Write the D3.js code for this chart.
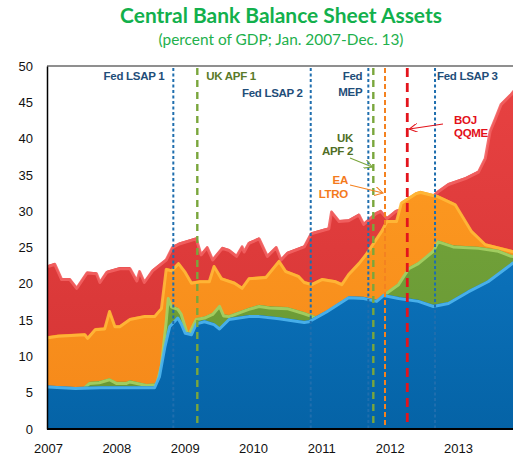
<!DOCTYPE html>
<html><head><meta charset="utf-8">
<script src="https://cdn.jsdelivr.net/npm/d3@7"></script>
<style>html,body{margin:0;padding:0;background:#fff;overflow:hidden}</style>
</head><body><svg id="c" width="513" height="457"></svg>
<script>
// ---------------- DATA ----------------
const yearTicks = [2007, 2008, 2009, 2010, 2011, 2012, 2013];
const valueTicks = [0, 5, 10, 15, 20, 25, 30, 35, 40, 45, 50];

// [decimal year, percent of GDP]
const bojSeries = [
  [2007.00,22.6],[2007.10,22.9],[2007.20,20.8],[2007.32,20.8],[2007.42,19.6],[2007.57,21.7],
  [2007.71,21.6],[2007.76,20.4],[2007.86,21.8],[2008.05,22.3],[2008.20,22.3],[2008.30,20.6],
  [2008.34,21.9],[2008.41,20.4],[2008.53,22.0],[2008.73,23.5],[2008.82,25.2],[2008.92,25.7],
  [2009.17,26.4],[2009.24,24.2],[2009.33,25.2],[2009.41,23.5],[2009.55,25.1],[2009.65,24.8],
  [2009.76,24.0],[2009.84,25.3],[2009.87,24.6],[2009.94,25.8],[2010.09,26.4],[2010.21,24.0],
  [2010.34,25.2],[2010.41,23.5],[2010.50,24.4],[2010.75,25.3],[2010.85,27.1],[2011.11,27.8],
  [2011.15,30.1],[2011.26,28.8],[2011.40,28.9],[2011.55,29.7],[2011.62,28.4],[2011.80,29.9],
  [2011.87,30.2],[2011.96,29.2],[2012.09,30.2],[2012.35,30.8],[2012.60,32.0],[2012.71,32.9],
  [2012.86,33.9],[2013.11,34.7],[2013.30,35.6],[2013.40,37.5],[2013.47,41.2],[2013.55,43.0],
  [2013.63,44.9],[2013.78,46.3],[2013.92,48.0]
];
const ecbSeries = [
  [2007.00,12.8],[2007.15,13.0],[2007.54,13.2],[2007.58,12.7],[2007.69,13.9],[2007.83,14.0],
  [2007.90,16.4],[2007.98,14.3],[2008.05,14.3],[2008.20,15.3],[2008.41,15.7],[2008.56,15.7],
  [2008.66,16.8],[2008.73,22.2],[2008.81,22.0],[2008.91,23.0],[2009.00,21.9],[2009.10,20.3],
  [2009.22,20.5],[2009.36,20.5],[2009.43,22.6],[2009.54,20.9],[2009.73,20.3],[2009.84,19.6],
  [2009.94,20.9],[2010.19,21.1],[2010.38,23.3],[2010.48,21.9],[2010.67,21.2],[2010.75,20.4],
  [2010.86,20.1],[2011.01,20.8],[2011.21,20.5],[2011.30,20.1],[2011.40,21.5],[2011.55,23.0],
  [2011.66,24.3],[2011.88,27.4],[2011.96,28.8],[2012.10,28.8],[2012.17,31.3],[2012.38,32.6],
  [2012.45,32.8],[2012.71,32.2],[2012.96,31.1],[2013.20,27.4],[2013.40,25.6],[2013.78,24.7],
  [2013.92,24.3]
];
const boeSeries = [
  [2007.00,5.6],[2007.50,5.6],[2007.61,6.5],[2007.75,6.6],[2007.90,7.0],[2008.00,6.5],
  [2008.15,6.5],[2008.20,6.7],[2008.44,6.2],[2008.59,6.3],[2008.66,9.0],[2008.73,15.0],
  [2008.76,18.2],[2008.81,17.0],[2008.90,16.7],[2008.95,16.0],[2009.05,13.0],[2009.17,15.3],
  [2009.29,15.5],[2009.41,16.0],[2009.51,17.1],[2009.57,15.8],[2009.65,15.7],[2009.94,16.7],
  [2010.09,17.1],[2010.24,16.9],[2010.50,16.8],[2010.75,16.1],[2010.90,15.6],[2011.00,15.5],
  [2011.50,17.0],[2011.85,17.6],[2011.91,18.6],[2012.13,20.1],[2012.28,22.3],[2012.42,23.0],
  [2012.64,24.7],[2012.71,26.0],[2012.93,25.3],[2013.30,25.1],[2013.59,24.7],[2013.78,24.0],
  [2013.92,23.9]
];
const fedSeries = [
  [2007.00,6.0],[2007.40,5.8],[2007.76,5.9],[2008.30,5.9],[2008.56,5.9],[2008.63,7.4],
  [2008.71,11.5],[2008.78,14.3],[2008.90,15.5],[2008.95,14.7],[2009.01,13.4],[2009.10,13.2],
  [2009.17,14.7],[2009.29,15.0],[2009.43,14.6],[2009.51,14.0],[2009.65,15.3],[2009.94,15.7],
  [2010.09,15.7],[2010.38,15.4],[2010.75,14.9],[2010.82,15.0],[2011.07,16.3],[2011.40,18.3],
  [2011.62,18.2],[2011.81,17.8],[2011.91,18.6],[2012.13,18.2],[2012.42,17.8],[2012.64,17.1],
  [2012.86,17.5],[2013.15,19.1],[2013.44,20.5],[2013.78,22.9],[2013.92,23.8]
];

const eventLabels = ["Fed LSAP 1","UK APF 1","Fed LSAP 2","Fed MEP","UK APF 2","EA LTRO","BOJ QQME","Fed LSAP 3"];
const eventDates  = [2008.834, 2009.185, 2010.845, 2011.688, 2011.761, 2011.932, 2012.258, 2012.664];
const eventBanks  = ["fed","boe","fed","fed","boe","ecb","boj","fed"];

// ---------------- STYLE ----------------
const W = 513, H = 457;
const svg = d3.select("#c");
const x = d3.scaleLinear().domain([2007, 2014]).range([48, 48 + 7 * 68.33]);
const y = d3.scaleLinear().domain([0, 50]).range([429, 66]);

const fills = {
  boj: ["#e84242", "#d43434"], ecb: ["#ff9f22", "#f5881a"],
  boe: ["#78a93c", "#679634"], fed: ["#1282d2", "#0563a6"]
};
const edges = { boj: "#f26262", ecb: "#ffb838", boe: "#a6d264", fed: "#4fb6f0" };
const lineCol = { fed: "#1f6eae", boe: "#7aa63c", ecb: "#f48220", boj: "#e3141c" };
const dash = { fed: "3,2.5", boe: "7,5", ecb: "5,3", boj: "9,6" };
const lineW = { fed: 2, boe: 2.4, ecb: 2, boj: 2.8 };
const textCol = { fed: "#1f4e79", boe: "#5a7a28", ecb: "#f47a1c", boj: "#e3101a" };

const defs = svg.append("defs");
Object.entries(fills).forEach(([k, c]) => {
  const g = defs.append("linearGradient").attr("id", "g-" + k)
    .attr("gradientUnits", "userSpaceOnUse").attr("x1", 0).attr("x2", 0)
    .attr("y1", 66).attr("y2", 429);
  g.append("stop").attr("offset", "0%").attr("stop-color", c[0]);
  g.append("stop").attr("offset", "100%").attr("stop-color", c[1]);
});
["boe","ecb","boj"].forEach(k => {
  defs.append("marker").attr("id", "arr-" + k).attr("viewBox", "0 0 10 10")
    .attr("refX", 9).attr("refY", 5).attr("markerWidth", 9).attr("markerHeight", 9)
    .attr("markerUnits", "userSpaceOnUse").attr("orient", "auto")
    .append("path").attr("d", "M0,0 L9,5 L0,10").attr("fill", "none")
    .attr("stroke", lineCol[k]).attr("stroke-width", 1.2);
});
defs.append("clipPath").attr("id", "plot").append("rect")
  .attr("x", 48).attr("y", 60).attr("width", 520).attr("height", 369);

// top border
svg.append("line").attr("x1", 47).attr("x2", W).attr("y1", y(50)).attr("y2", y(50))
  .attr("stroke", "#8f8f8f").attr("stroke-width", 2);

// areas (overlapping, drawn back to front)
const area = d3.area().x(d => x(d[0])).y0(y(0)).y1(d => y(d[1]));
const line = d3.line().x(d => x(d[0])).y(d => y(d[1]));
const gA = svg.append("g").attr("clip-path", "url(#plot)");
[["boj", bojSeries], ["ecb", ecbSeries], ["boe", boeSeries], ["fed", fedSeries]].forEach(([k, s]) => {
  gA.append("path").datum(s).attr("d", area).attr("fill", `url(#g-${k})`);
  gA.append("path").datum(s).attr("d", line).attr("fill", "none")
    .attr("stroke", edges[k]).attr("stroke-width", 3).attr("stroke-linejoin", "round")
    .attr("stroke-opacity", 0.9).attr("transform", "translate(0,1.6)");
});

// axes
const yAxis = svg.append("g").attr("transform", "translate(47,0)")
  .call(d3.axisLeft(y).tickValues(valueTicks).tickSize(0).tickSizeOuter(0).tickPadding(14));
yAxis.select(".domain").attr("stroke", "#000").attr("stroke-width", 1.5);
yAxis.selectAll("text").style("font-family", "'Liberation Sans', Arial, sans-serif")
  .attr("font-size", 13).attr("fill", "#111");

const xAxis = svg.append("g").attr("transform", `translate(0,${y(0)})`)
  .call(d3.axisBottom(x).tickValues(yearTicks).tickFormat(d3.format("d")).tickSize(0).tickSizeOuter(0).tickPadding(15));
xAxis.select(".domain").attr("d", `M47,0H${W}`).attr("stroke", "#000").attr("stroke-width", 2.2);
xAxis.selectAll("text").style("font-family", "'Liberation Sans', Arial, sans-serif")
  .attr("font-size", 13).attr("fill", "#111");

// event lines
eventDates.forEach((d, i) => {
  const k = eventBanks[i];
  svg.append("line").attr("x1", x(d)).attr("x2", x(d)).attr("y1", y(50) + 2).attr("y2", y(0) - 1)
    .attr("stroke", lineCol[k]).attr("stroke-width", lineW[k]).attr("stroke-dasharray", dash[k]);
});

// annotation text
const lbl = (txt, px, py, anchor, k) => svg.append("text").text(txt)
  .attr("x", px).attr("y", py).attr("text-anchor", anchor)
  .style("font-family", "'Liberation Sans', Arial, sans-serif").attr("font-weight", "bold")
  .attr("font-size", 11.5).attr("letter-spacing", -0.3).attr("fill", textCol[k]);

lbl("Fed LSAP 1", x(eventDates[0]) - 9, 80, "end", "fed");
lbl("UK APF 1", x(eventDates[1]) + 9, 80, "start", "boe");
lbl("Fed LSAP 2", x(eventDates[2]) - 8, 97, "end", "fed");
lbl("Fed", x(eventDates[3]) - 6, 80, "end", "fed");
lbl("MEP", x(eventDates[3]) - 6, 96, "end", "fed");
lbl("Fed LSAP 3", x(eventDates[7]) + 2, 80, "start", "fed");
lbl("UK", 353, 142, "end", "boe").attr("fill", "#4f6e26");
lbl("APF 2", 353, 155, "end", "boe").attr("fill", "#4f6e26");
lbl("EA", 348, 184, "end", "ecb");
lbl("LTRO", 348, 198, "end", "ecb");
lbl("BOJ", 454, 124, "start", "boj");
lbl("QQME", 454, 137, "start", "boj");

// arrows
const arrow = (x1, y1, x2, y2, k) => svg.append("line").attr("x1", x1).attr("y1", y1)
  .attr("x2", x2).attr("y2", y2).attr("stroke", lineCol[k]).attr("stroke-width", 1.2)
  .attr("marker-end", `url(#arr-${k})`);
arrow(350, 158, x(eventDates[4]) - 1, 167, "boe");
arrow(350, 185, x(eventDates[5]) - 2, 193, "ecb");
arrow(443, 124, x(eventDates[6]) + 2, 129, "boj");

// titles
const title = svg.append("text").text("Central Bank Balance Sheet Assets")
  .attr("x", 281).attr("y", 23).attr("text-anchor", "middle")
  .attr("font-family", "Lato, 'Open Sans', sans-serif").attr("font-weight", "bold")
  .attr("font-size", 20).attr("fill", "#12b04c");
const tw = title.node().getComputedTextLength();
title.attr("font-size", 20 * 322 / tw);
const sub = svg.append("text").text("(percent of GDP; Jan. 2007-Dec. 13)")
  .attr("x", 281).attr("y", 45).attr("text-anchor", "middle")
  .attr("font-family", "Lato, 'Open Sans', sans-serif")
  .attr("font-size", 14).attr("fill", "#22b04c");
const sw = sub.node().getComputedTextLength();
sub.attr("font-size", 14 * 245 / sw);
</script></body></html>
